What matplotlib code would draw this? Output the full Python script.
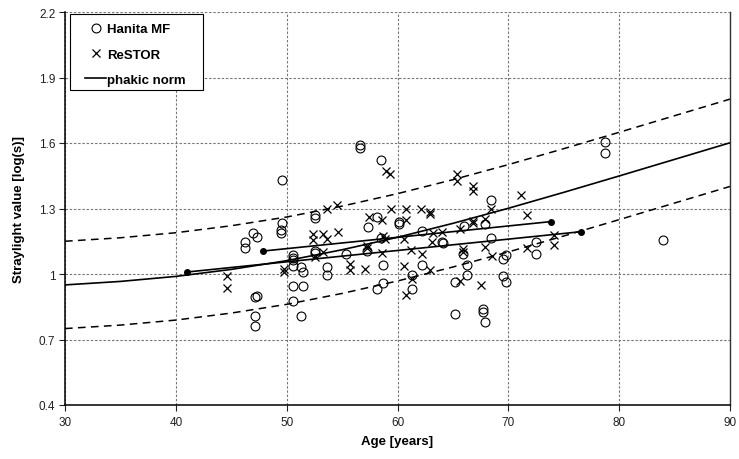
import matplotlib
matplotlib.use("Agg")
import matplotlib.pyplot as plt
from matplotlib.lines import Line2D
from matplotlib.patches import Rectangle

# ---------------- data ----------------
hanita_age = [46.25, 46.2, 46.94, 47.3, 47.15, 47.36, 47.15, 47.15, 49.6, 49.6,
              49.5, 49.45, 50.6, 50.6, 50.6, 50.6, 51.27, 51.5, 50.6, 51.5,
              50.6, 51.27, 52.56, 52.56, 52.56, 52.56, 53.67, 53.67, 55.33, 56.63,
              56.63, 58.5, 57.37, 58.19, 57.28, 58.5, 58.67, 58.67, 58.19, 60.17,
              60.17, 61.28, 61.28, 62.2, 62.2, 64.0, 64.1, 65.2, 65.2, 65.95,
              66.0, 66.25, 66.25, 67.7, 67.75, 67.9, 67.9, 68.45, 68.45, 69.5,
              69.8, 69.5, 69.8, 72.5, 72.5, 78.74, 78.74, 83.94]
hanita_val = [1.145, 1.118, 1.188, 1.168, 0.893, 0.898, 0.806, 0.76, 1.432, 1.232,
              1.20, 1.19, 1.087, 1.075, 1.062, 1.038, 1.032, 1.01, 0.947, 0.947,
              0.878, 0.806, 1.27, 1.255, 1.107, 1.095, 1.031, 0.994, 1.091, 1.592,
              1.578, 1.521, 1.214, 1.262, 1.105, 1.164, 1.041, 0.959, 0.932, 1.237,
              1.229, 0.995, 0.931, 1.198, 1.041, 1.148, 1.142, 0.962, 0.817, 1.092,
              1.222, 1.041, 0.997, 0.84, 0.826, 0.779, 1.229, 1.34, 1.164, 1.069,
              1.087, 0.992, 0.962, 1.145, 1.092, 1.606, 1.553, 1.156]

restor_age = [44.6, 44.6, 49.77, 49.77, 52.35, 52.35, 53.3, 53.6, 54.6, 53.62,
              54.58, 52.56, 53.3, 55.72, 55.72, 57.08, 57.44, 58.58, 58.73, 58.88,
              57.22, 57.22, 58.58, 59.0, 59.33, 59.4, 60.75, 62.13, 62.94, 62.94,
              60.77, 60.6, 61.2, 60.6, 61.28, 60.8, 62.2, 62.94, 63.24, 64.0,
              63.1, 65.4, 65.4, 66.85, 66.85, 65.6, 66.85, 66.85, 67.9, 65.95,
              65.95, 67.9, 68.55, 65.65, 67.5, 68.45, 71.1, 71.67, 71.7, 74.15,
              74.15]
restor_val = [0.99, 0.936, 1.023, 1.008, 1.183, 1.157, 1.183, 1.162, 1.191, 1.298,
              1.315, 1.077, 1.10, 1.046, 1.02, 1.023, 1.26, 1.249, 1.176, 1.16,
              1.128, 1.118, 1.096, 1.473, 1.458, 1.30, 1.30, 1.30, 1.283, 1.275,
              1.249, 1.16, 1.112, 1.035, 0.977, 0.902, 1.092, 1.02, 1.19, 1.194,
              1.145, 1.458, 1.427, 1.401, 1.381, 1.206, 1.244, 1.234, 1.252, 1.115,
              1.10, 1.122, 1.084, 0.969, 0.95, 1.30, 1.361, 1.27, 1.117, 1.177,
              1.132]

norm_age = [30, 35, 40, 45, 50, 55, 60, 65, 70, 75, 80, 85, 90]
norm_val = [0.950, 0.966, 0.989, 1.021, 1.061, 1.111, 1.168, 1.232, 1.301, 1.374, 1.449, 1.525, 1.601]
norm_upper = [1.150, 1.166, 1.189, 1.221, 1.261, 1.311, 1.368, 1.432, 1.501, 1.574, 1.649, 1.725, 1.801]
norm_lower = [0.750, 0.766, 0.789, 0.821, 0.861, 0.911, 0.968, 1.032, 1.101, 1.174, 1.249, 1.325, 1.401]

fit_a_age = [41.0, 76.6]
fit_a_val = [1.009, 1.194]
fit_b_age = [47.85, 73.85]
fit_b_val = [1.105, 1.240]

x_ticks = [30, 40, 50, 60, 70, 80, 90]
y_ticks = [0.4, 0.7, 1.0, 1.3, 1.6, 1.9, 2.2]
y_tick_labels = ["0.4", "0.7", "1", "1.3", "1.6", "1.9", "2.2"]
legend_labels = ['Hanita MF', 'ReSTOR', 'phakic norm']

# ---------------- figure ----------------
plt.rcParams['font.family'] = ['Liberation Sans', 'DejaVu Sans']
W, H = 739, 460
fig = plt.figure(figsize=(W/100, H/100), dpi=100)
ax = fig.add_axes([65/W, 1-406/H, (730-65)/W, (406-13)/H])

ax.set_xlim(30, 90)
ax.set_ylim(0.4, 2.2)
ax.set_xticks(x_ticks)
ax.set_yticks(y_ticks)
ax.set_yticklabels(y_tick_labels)

ax.grid(True, color='#777777', linestyle=(0, (2.2, 1.6)), linewidth=0.8)
ax.set_axisbelow(True)

ax.plot(norm_age, norm_upper, color='black', lw=1.1, ls=(0, (5, 3.5)))
ax.plot(norm_age, norm_lower, color='black', lw=1.1, ls=(0, (5, 3.5)))
ax.plot(norm_age, norm_val, color='black', lw=1.2)

ax.plot(fit_a_age, fit_a_val, color='black', lw=1.2, marker='o', ms=4)
ax.plot(fit_b_age, fit_b_val, color='black', lw=1.2, marker='o', ms=4)

ax.plot(hanita_age, hanita_val, ls='none', marker='o', ms=6.4, mfc='none',
        mec='black', mew=0.8)
ax.plot(restor_age, restor_val, ls='none', marker='x', ms=5.2, color='black',
        mew=0.9)

ax.spines['top'].set_visible(False)
ax.spines['right'].set_color('#333333')
ax.spines['left'].set_linewidth(1.1)
ax.spines['bottom'].set_linewidth(1.1)
ax.spines['right'].set_linewidth(1.0)

ax.tick_params(axis='both', direction='out', length=4, width=0.8,
               labelsize=8.5, labelcolor='#222222', colors='#222222')
ax.tick_params(axis='x', pad=4)
ax.tick_params(axis='y', pad=3)

ax.set_xlabel('Age [years]', fontsize=9.5, fontweight='bold', labelpad=5)
ax.set_ylabel('Straylight value [log(s)]', fontsize=9.5, fontweight='bold', labelpad=10)

# legend box
box = Rectangle((70/W, 1-91/H), 133/W, 76/H, transform=fig.transFigure,
                facecolor='white', edgecolor='black', lw=0.8, zorder=5)
fig.patches.append(box)

handles = [
    Line2D([], [], ls='none', marker='o', ms=6.4, mfc='none', mec='black', mew=0.8),
    Line2D([], [], ls='none', marker='x', ms=5.2, color='black', mew=0.9),
    Line2D([], [], color='black', lw=1.2),
]
leg = fig.legend(handles, legend_labels,
                 loc='upper left', bbox_to_anchor=(85/W, 1-24/H),
                 bbox_transform=fig.transFigure, frameon=False,
                 prop={'weight': 'bold', 'size': 9.5},
                 handlelength=1.6, handletextpad=0.1, labelspacing=1.0,
                 borderpad=0, borderaxespad=0)
leg.set_zorder(6)

fig.savefig('out.png', dpi=100)
